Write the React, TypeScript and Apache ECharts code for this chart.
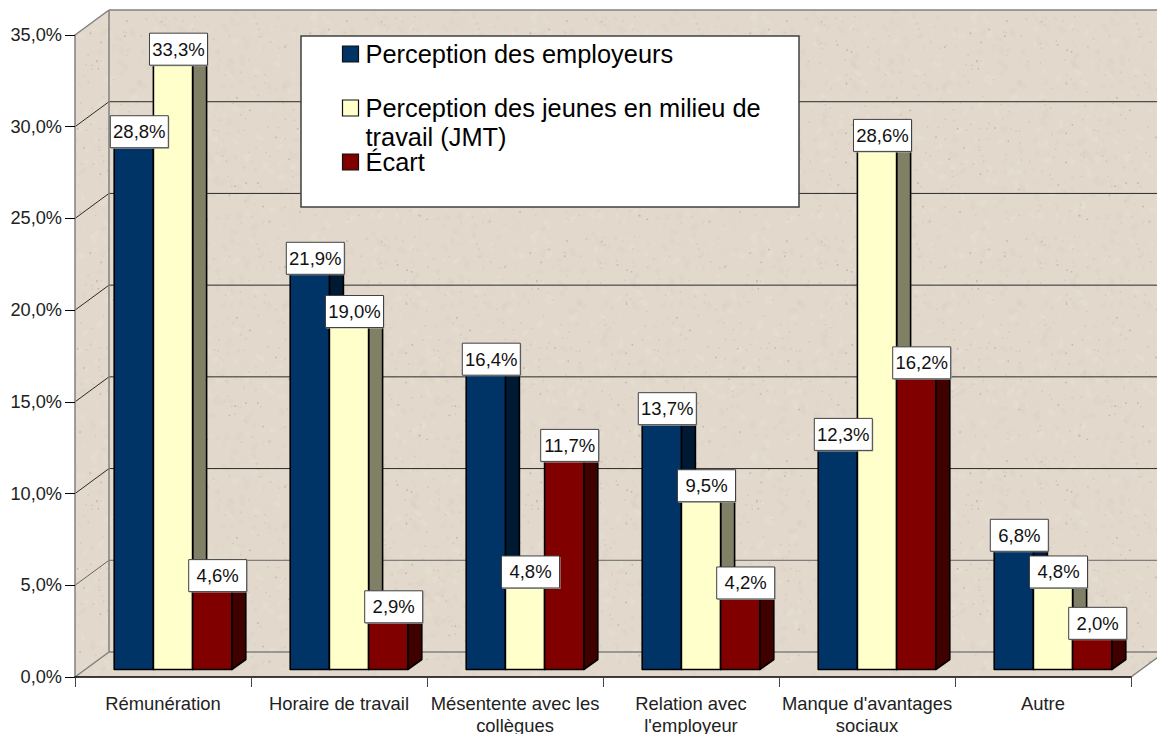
import React, { useEffect, useRef } from "react";
import * as echarts from "echarts";

const categories = [
  "Rémunération",
  "Horaire de travail",
  "Mésentente avec les\ncollègues",
  "Relation avec\nl'employeur",
  "Manque d'avantages\nsociaux",
  "Autre",
];
const seriesNames = [
  "Perception des employeurs",
  "Perception des jeunes en milieu de travail (JMT)",
  "Écart",
];
const employeurs = [28.8, 21.9, 16.4, 13.7, 12.3, 6.8];
const jeunes = [33.3, 19.0, 4.8, 9.5, 28.6, 4.8];
const ecart = [4.6, 2.9, 11.7, 4.2, 16.2, 2.0];
const yTicks = [0, 5, 10, 15, 20, 25, 30, 35];

const FONT = "'Liberation Sans', Arial, sans-serif";
const frontColors = ["#003366", "#FFFFCC", "#800000"];
const sideColors = ["#001A33", "#808066", "#400000"];
const topColors = ["#002244", "#BFBF99", "#600000"];
const WALL_DX = 34;
const WALL_DY = -25;
const BAR_DX = 14;
const BAR_DY = -10;
const PLANE_DX = 10;
const PLANE_DY = -7.5;
const GREY = "#808080";

function hash(a: number, b: number) {
  const s = Math.sin(a * 127.1 + b * 311.7) * 43758.5453;
  return s - Math.floor(s);
}

function makeTexture() {
  const size = 220;
  const c = document.createElement("canvas");
  c.width = size;
  c.height = size;
  const g = c.getContext("2d")!;
  g.fillStyle = "#E2D9CC";
  g.fillRect(0, 0, size, size);
  for (let i = 0; i < 420; i++) {
    const x = hash(i, 1) * size;
    const y = hash(i, 2) * size;
    const t = hash(i, 3);
    const r = 1 + hash(i, 4) * 4;
    g.fillStyle =
      t < 0.5
        ? "rgba(205,193,175,0.14)"
        : t < 0.85
        ? "rgba(238,231,222,0.18)"
        : "rgba(224,212,212,0.2)";
    g.beginPath();
    g.ellipse(x, y, r, r * 0.6, hash(i, 5) * 3, 0, Math.PI * 2);
    g.fill();
  }
  for (let i = 0; i < 170; i++) {
    g.fillStyle = i % 5 === 0 ? "rgba(150,138,120,0.45)" : "rgba(180,166,146,0.32)";
    g.fillRect(hash(i, 6) * size, hash(i, 7) * size, 1.5, 1.5);
  }
  return c;
}

const fmt = (v: number) => v.toFixed(1).replace(".", ",") + "%";

export default function App() {
  const ref = useRef<HTMLDivElement>(null);

  useEffect(() => {
    document.body.style.margin = "0";
    const chart = echarts.init(ref.current!, undefined, { renderer: "svg" });
    const texture = { image: makeTexture(), repeat: "repeat" } as any;

    const wallSeries = {
      type: "custom",
      name: "walls",
      silent: true,
      z: 1,
      data: yTicks.map((t) => [0, t]),
      encode: { x: 0, y: 1 },
      renderItem: (params: any, api: any) => {
        const v = api.value(1);
        const [, y] = api.coord([0, v]);
        const cs = params.coordSys;
        const x0 = cs.x;
        const x1 = cs.x + cs.width;
        const children: any[] = [];
        if (params.dataIndex === 0) {
          const yTop = cs.y;
          const yBot = cs.y + cs.height;
          const shapes = [
            [[x0 + WALL_DX, yTop + WALL_DY], [x1 + WALL_DX, yTop + WALL_DY], [x1 + WALL_DX, yBot + WALL_DY], [x0 + WALL_DX, yBot + WALL_DY]],
            [[x0, yTop], [x0 + WALL_DX, yTop + WALL_DY], [x0 + WALL_DX, yBot + WALL_DY], [x0, yBot]],
            [[x0, yBot], [x0 + WALL_DX, yBot + WALL_DY], [x1 + WALL_DX, yBot + WALL_DY], [x1, yBot]],
          ];
          shapes.forEach((points) =>
            children.push({
              type: "polygon",
              z2: 0,
              shape: { points },
              style: { fill: texture, stroke: "none" },
            })
          );
          const edges = [
            [x0 + WALL_DX, yTop + WALL_DY, x1 + WALL_DX, yTop + WALL_DY],
            [x0 + WALL_DX, yTop + WALL_DY, x0 + WALL_DX, yBot + WALL_DY],
            [x0, yTop, x0 + WALL_DX, yTop + WALL_DY],
            [x0, yBot, x0 + WALL_DX, yBot + WALL_DY],
            [x1, yBot, x1 + WALL_DX, yBot + WALL_DY],
            [x0 + WALL_DX, yBot + WALL_DY, x1 + WALL_DX, yBot + WALL_DY],
          ];
          edges.forEach(([a, b, c, d]) =>
            children.push({
              type: "line",
              z2: 2,
              shape: { x1: a, y1: b, x2: c, y2: d },
              style: { stroke: GREY, lineWidth: 1.5 },
            })
          );
        } else if (v < 35) {
          children.push({
            type: "polyline",
            z2: 1,
            shape: {
              points: [
                [x0, y],
                [x0 + WALL_DX, y + WALL_DY],
                [x1 + WALL_DX, y + WALL_DY],
              ],
            },
            style: { fill: "none", stroke: v === 5 ? "#666" : "#2B2B2B", lineWidth: 1 },
          });
        }
        return { type: "group", children };
      },
    };

    const barSeries = [employeurs, jeunes, ecart].map((values, si) => ({
      type: "custom",
      name: seriesNames[si],
      z: 3 + si,
      data: values.map((v, i) => [i, v]),
      encode: { x: 0, y: 1 },
      renderItem: (_p: any, api: any) => {
        const cat = api.value(0);
        const val = api.value(1);
        const [cx, yTop0] = api.coord([cat, val]);
        const [, yBase0] = api.coord([cat, 0]);
        const w = (api.size([1, 0])[0] * 39.2) / 176;
        const left = cx + PLANE_DX + (si - 1.5) * w;
        const right = left + w;
        const top = yTop0 + PLANE_DY;
        const base = yBase0 + PLANE_DY;
        const line = { stroke: "#000", lineWidth: 1.6, lineJoin: "round" };
        return {
          type: "group",
          children: [
            {
              type: "polygon",
              shape: {
                points: [
                  [right, base],
                  [right + BAR_DX, base + BAR_DY],
                  [right + BAR_DX, top + BAR_DY],
                  [right, top],
                ],
              },
              style: { fill: sideColors[si], ...line },
            },
            {
              type: "polygon",
              shape: {
                points: [
                  [left, top],
                  [left + BAR_DX, top + BAR_DY],
                  [right + BAR_DX, top + BAR_DY],
                  [right, top],
                ],
              },
              style: { fill: topColors[si], ...line },
            },
            {
              type: "rect",
              shape: { x: left, y: top, width: w, height: base - top },
              style: { fill: frontColors[si], ...line },
            },
          ],
        };
      },
    }));

    const labelSeries = [employeurs, jeunes, ecart].map((values, si) => ({
      type: "custom",
      name: seriesNames[si] + " (étiquettes)",
      z: 10,
      silent: true,
      data: values.map((v, i) => [i, v]),
      encode: { x: 0, y: 1 },
      renderItem: (_p: any, api: any) => {
        const cat = api.value(0);
        const val = api.value(1);
        const [cx, yTop0] = api.coord([cat, val]);
        const w = (api.size([1, 0])[0] * 39.2) / 176;
        const xc = cx + PLANE_DX + (si - 1) * w + 5.5;
        const yc = yTop0 + PLANE_DY - 9.5;
        const bw = 58;
        const bh = 32;
        return {
          type: "group",
          children: [
            {
              type: "rect",
              shape: { x: xc - bw / 2 + 1, y: yc - bh / 2 + 1, width: bw, height: bh },
              style: { fill: "#B0B0B0" },
            },
            {
              type: "rect",
              shape: { x: xc - bw / 2, y: yc - bh / 2, width: bw, height: bh },
              style: { fill: "#fff", stroke: "#404040", lineWidth: 1 },
            },
            {
              type: "text",
              x: xc,
              y: yc,
              style: {
                text: fmt(val),
                fill: "#111",
                font: `18.5px ${FONT}`,
                align: "center",
                verticalAlign: "middle",
              },
            },
          ],
        };
      },
    }));

    const legendLines = [
      { sym: 0, y: 54, lines: ["Perception des employeurs"] },
      { sym: 1, y: 108, lines: ["Perception des jeunes en milieu de", "travail (JMT)"] },
      { sym: 2, y: 162, lines: ["Écart"] },
    ];
    const legendChildren: any[] = [
      {
        type: "rect",
        z: 50,
        shape: { x: 301, y: 36, width: 498, height: 171 },
        style: { fill: "#fff", stroke: "#404040", lineWidth: 1.5 },
      },
    ];
    legendLines.forEach((e) => {
      legendChildren.push({
        type: "rect",
        z: 51,
        shape: { x: 342.5, y: e.y - 8, width: 16, height: 16 },
        style: { fill: frontColors[e.sym], stroke: "#111", lineWidth: 1.2 },
      });
      e.lines.forEach((t, li) =>
        legendChildren.push({
          type: "text",
          z: 51,
          x: 365.5,
          y: e.y + li * 29,
          style: {
            text: t,
            fill: "#000",
            font: `25.4px ${FONT}`,
            align: "left",
            verticalAlign: "middle",
          },
        })
      );
    });

    chart.setOption({
      animation: false,
      backgroundColor: "#fff",
      textStyle: { fontFamily: FONT },
      grid: { left: 75, right: 26, top: 35, bottom: 57, containLabel: false, outerBoundsMode: "none" },
      xAxis: {
        type: "category",
        data: categories,
        boundaryGap: true,
        z: 20,
        axisLine: { show: true, lineStyle: { color: "#000", width: 1.5 } },
        axisTick: { show: true, alignWithLabel: false, length: 10, lineStyle: { color: "#444", width: 1 } },
        axisLabel: {
          interval: 0,
          color: "#222",
          fontSize: 18.4,
          fontFamily: FONT,
          lineHeight: 22,
          margin: 15,
        },
        splitLine: { show: false },
      },
      yAxis: {
        type: "value",
        min: 0,
        max: 35,
        interval: 5,
        z: 20,
        axisLine: { show: true, lineStyle: { color: GREY, width: 1.5 } },
        axisTick: { show: true, length: 10, lineStyle: { color: "#000", width: 1 } },
        axisLabel: {
          color: "#222",
          fontSize: 18.2,
          fontFamily: FONT,
          margin: 13,
          formatter: (v: number) => fmt(v),
        },
        splitLine: { show: false },
      },
      graphic: [{ type: "group", children: legendChildren }],
      series: [wallSeries, ...barSeries, ...labelSeries],
    } as any);
    return () => chart.dispose();
  }, []);

  return <div ref={ref} style={{ width: 1157, height: 734 }} />;
}
